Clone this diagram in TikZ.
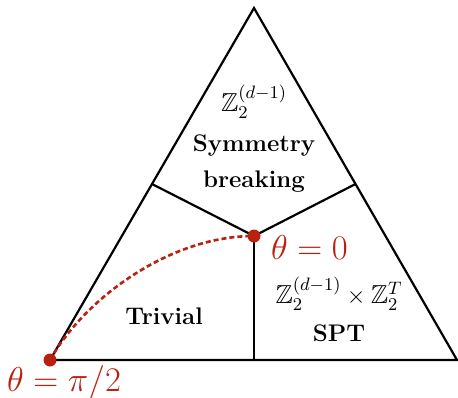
\documentclass[tikz,border=0pt]{standalone}
\usepackage{amsmath,amssymb}
\usetikzlibrary{positioning}
\definecolor{PathRed}{HTML}{B8210F}

\begin{document}
\begin{tikzpicture}[
      x=0.5pt, y=-0.5pt,
      edge/.style={draw=black, line width=1.1pt},
      phase/.style={font=\large\bfseries, align=center},
      group/.style={font=\fontsize{13}{15}\selectfont},
      dot/.style={circle, fill=PathRed, inner sep=0pt, minimum size=6.5pt},
      path/.style={draw=PathRed, dash pattern=on 2.5pt off 1.5pt, line width=1.3pt},
      lbl/.style={text=PathRed, font=\LARGE}
    ]
      \useasboundingbox (0,0) rectangle (458,397);
      \coordinate (top) at (254,8);
      \coordinate (bl) at (50,360);
      \coordinate (br) at (457,360);
      \coordinate (ml) at (152,184);
      \coordinate (mr) at (355.5,184);
      \coordinate (mb) at (254,360);
      \coordinate (ctr) at (254,236);
      \draw[edge, line join=miter] (top) -- (bl) -- (br) -- cycle;
      \draw[edge] (ml) -- (ctr) -- (mr);
      \draw[edge] (ctr) -- (mb);
      \node[group] (sbgrp) at (254,102) {$\mathbb{Z}_2^{(d-1)}$};
      \node[phase, below=1pt of sbgrp] (sb) {Symmetry\\[4pt]breaking};
      \node[phase] (triv) at (164,316) {Trivial};
      \node[group] (sptgrp) at (339,294) {$\mathbb{Z}_2^{(d-1)}\times\mathbb{Z}_2^{T}$};
      \node[phase, below=0pt of sptgrp] (spt) {SPT};
      \draw[path] (bl) .. controls (85,298) and (170,236) .. (ctr);
      \node[dot] (p0) at (ctr) {};
      \node[dot] (p1) at (bl) {};
      \node[lbl, anchor=west] (t0) at (264,247) {$\theta=0$};
      \node[lbl] (t1) at (64,383) {$\theta=\pi/2$};
    \end{tikzpicture}
\end{document}
